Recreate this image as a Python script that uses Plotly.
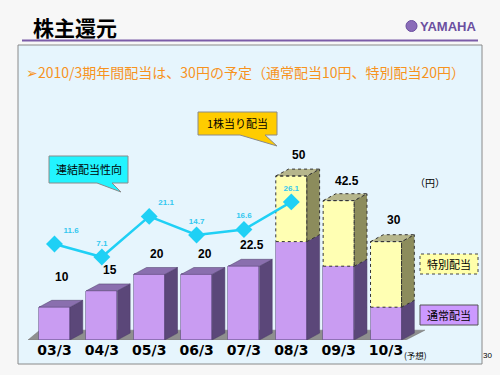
import plotly.graph_objects as go

# ---------------- data ----------------
categories = ["03/3", "04/3", "05/3", "06/3", "07/3", "08/3", "09/3", "10/3"]
regular_dividend = [10, 15, 20, 20, 22.5, 30, 22.5, 10]
special_dividend = [0, 0, 0, 0, 0, 20, 20, 20]
total_labels = ["10", "15", "20", "20", "22.5", "50", "42.5", "30"]
payout_categories = ["03/3", "04/3", "05/3", "06/3", "07/3", "08/3"]
payout_ratio = [11.6, 7.1, 21.1, 14.7, 16.6, 26.1]

# ---------------- geometry helpers ----------------
W, H = 500, 375
def px(x):
    return x / W
def py(y):
    return 1 - y / H

xpos = list(range(len(categories)))
cat_index = {c: i for i, c in enumerate(categories)}
payout_x = [cat_index[c] for c in payout_categories]
totals = [r + s for r, s in zip(regular_dividend, special_dividend)]

BW = 0.655   # bar front width (category units)
DX = 0.27    # 3D depth, x
DY = 2.1     # 3D depth, y (value units)

PURPLE_FRONT = "#c99cf2"
PURPLE_SIDE = "#5b4779"
PURPLE_TOP = "#8a6fae"
YELLOW_FRONT = "#ffffb3"
YELLOW_SIDE = "#8c8c5c"
YELLOW_TOP = "#b6b68c"
CYAN = "#1fd0f5"
CJK = "Noto Sans CJK JP"

fig = go.Figure()

# front faces
fig.add_trace(go.Bar(x=xpos, y=regular_dividend, width=BW, marker=dict(color=PURPLE_FRONT, line=dict(color="#6a5590", width=0.6)),
                     showlegend=False, hoverinfo="skip"))
fig.add_trace(go.Bar(x=xpos, y=special_dividend, width=BW, marker=dict(color=YELLOW_FRONT, line=dict(color="rgba(0,0,0,0)", width=0)),
                     showlegend=False, hoverinfo="skip"))

# side & top faces
def side_poly(i, lo, hi):
    xr = i + BW / 2
    return [xr, xr + DX, xr + DX, xr, xr, None], [lo, lo + DY, hi + DY, hi, lo, None]

def top_poly(i, hi):
    xl, xr = i - BW / 2, i + BW / 2
    return [xl, xl + DX, xr + DX, xr, xl, None], [hi, hi + DY, hi + DY, hi, hi, None]

ps_x, ps_y, ys_x, ys_y, pt_x, pt_y, yt_x, yt_y = [], [], [], [], [], [], [], []
of_x, of_y = [], []
for i in xpos:
    r, s = regular_dividend[i], special_dividend[i]
    a, b = side_poly(i, 0, r)
    ps_x += a; ps_y += b
    if s > 0:
        a, b = side_poly(i, r, r + s)
        ys_x += a; ys_y += b
        a, b = top_poly(i, r + s)
        yt_x += a; yt_y += b
        xl, xr = i - BW / 2, i + BW / 2
        of_x += [xl, xr, xr, xl, xl, None]
        of_y += [r, r, r + s, r + s, r, None]
    else:
        a, b = top_poly(i, r)
        pt_x += a; pt_y += b

fig.add_trace(go.Scatter(x=ps_x, y=ps_y, fill="toself", fillcolor=PURPLE_SIDE, mode="lines",
                         line=dict(color="#4a3a66", width=0.5), showlegend=False, hoverinfo="skip"))
fig.add_trace(go.Scatter(x=pt_x, y=pt_y, fill="toself", fillcolor=PURPLE_TOP, mode="lines",
                         line=dict(color="#4a3a66", width=0.5), showlegend=False, hoverinfo="skip"))
fig.add_trace(go.Scatter(x=ys_x, y=ys_y, fill="toself", fillcolor=YELLOW_SIDE, mode="lines",
                         line=dict(color="#333", width=1, dash="dot"), showlegend=False, hoverinfo="skip"))
fig.add_trace(go.Scatter(x=yt_x, y=yt_y, fill="toself", fillcolor=YELLOW_TOP, mode="lines",
                         line=dict(color="#333", width=1, dash="dot"), showlegend=False, hoverinfo="skip"))
fig.add_trace(go.Scatter(x=of_x, y=of_y, mode="lines",
                         line=dict(color="#333", width=1, dash="dot"), showlegend=False, hoverinfo="skip"))

# payout ratio line
fig.add_trace(go.Scatter(x=payout_x, y=payout_ratio, yaxis="y2", mode="lines+markers+text",
                         line=dict(color=CYAN, width=2.5),
                         marker=dict(symbol="diamond", size=13, color=CYAN),
                         text=[f"<b>{v:.1f}</b>" for v in payout_ratio],
                         textposition=["top right", "top center", "top right", "top center", "top center", "top center"],
                         textfont=dict(color="#33c8f0", size=8, family="Liberation Sans"),
                         showlegend=False, hoverinfo="skip"))

# ---------------- shapes ----------------
shapes = []
# panel
shapes.append(dict(type="rect", xref="paper", yref="paper", x0=px(18), x1=px(482), y0=py(364), y1=py(45),
                   fillcolor="#e6f5fd", line=dict(color="#8a8a8a", width=1), layer="below"))
# title underline
shapes.append(dict(type="line", xref="paper", yref="paper", x0=px(22), x1=px(478), y0=py(40.5), y1=py(40.5),
                   line=dict(color="#7b5ca8", width=2)))
# logo circle
shapes.append(dict(type="circle", xref="paper", yref="paper", x0=px(406), x1=px(417), y0=py(31.5), y1=py(20.5),
                   fillcolor="#8a6cb8", line=dict(color="#6b4fa0", width=1)))
# floor (below bars)
fx0, fx1 = -0.56, len(categories) - 1 + 0.42
floor_path = f"M {fx0},0 L {fx1},0 L {fx1 + 0.4},3 L {fx0 + 0.25},3 Z"
shapes.append(dict(type="path", xref="x", yref="y", path=floor_path, fillcolor="#8f8f8f",
                   line=dict(color="#707070", width=0.5), layer="below"))

def ppath(pts):
    s = "M " + " L ".join(f"{px(x)},{py(y)}" for x, y in pts) + " Z"
    return s

# callouts
shapes.append(dict(type="path", xref="paper", yref="paper",
                   path=ppath([(198, 112), (277, 112), (277, 135), (265, 135), (277, 146), (240, 135), (198, 135)]),
                   fillcolor="#ffcc00", line=dict(color="#8a8a8a", width=1)))
shapes.append(dict(type="path", xref="paper", yref="paper",
                   path=ppath([(49, 156), (128, 156), (128, 183), (112, 183), (121, 192), (97, 183), (49, 183)]),
                   fillcolor="#22f4ff", line=dict(color="#8a8a8a", width=1)))
# legend boxes
shapes.append(dict(type="rect", xref="paper", yref="paper", x0=px(420), x1=px(478), y0=py(274), y1=py(254),
                   fillcolor="#ffffaa", line=dict(color="#444", width=1, dash="dot")))
shapes.append(dict(type="rect", xref="paper", yref="paper", x0=px(420), x1=px(478), y0=py(325), y1=py(305),
                   fillcolor="#cc99ff", line=dict(color="#555", width=1)))

# ---------------- annotations ----------------
ann = []
def txt(x, y, text, size, color="black", family=CJK, xanchor="center", bold=False):
    t = f"<b>{text}</b>" if bold else text
    ann.append(dict(xref="paper", yref="paper", x=px(x), y=py(y), text=t, showarrow=False,
                    xanchor=xanchor, yanchor="middle", font=dict(size=size, color=color, family=family)))

txt(31, 27, "株主還元", 21, bold=True, xanchor="left")
txt(418, 26.5, "YAMAHA", 13, color="#6b4fa0", family="Liberation Sans", bold=True, xanchor="left")
txt(24, 72, "➢2010/3期年間配当は、30円の予定（通常配当10円、特別配当20円）", 14, color="#f7931e", xanchor="left")
txt(237.5, 123.5, "1株当り配当", 11)
txt(88.5, 169.5, "連結配当性向", 11)
txt(430, 182, "（円）", 10)
txt(449, 264, "特別配当", 11)
txt(449, 315, "通常配当", 11)
txt(415, 355, "(予想)", 8.5)
txt(487, 355, "30", 8, family="Liberation Sans")

label_yshift = [30, 21, 20, 20, 21, 21, 20, 22]
for i in xpos:
    ann.append(dict(xref="x", yref="y", x=i, y=totals[i], text=f"<b>{total_labels[i]}</b>", showarrow=False,
                    xshift=8, yshift=label_yshift[i], font=dict(size=12, color="black", family="Liberation Sans")))

# ---------------- layout ----------------
px_per_unit = 3.28
y2_zero_px, y2_px_per_unit = 277.6, 2.9
fig.update_layout(
    width=W, height=H,
    margin=dict(l=0, r=0, t=0, b=0),
    paper_bgcolor="#f7f7f7",
    plot_bgcolor="rgba(0,0,0,0)",
    barmode="stack",
    bargap=0,
    showlegend=False,
    shapes=shapes,
    annotations=ann,
    xaxis=dict(domain=[px(20), px(480)], range=[-0.728, 8.984], tickmode="array", tickvals=xpos,
               ticktext=[f"<b>{c}</b>" for c in categories], showgrid=False, zeroline=False, showline=False, ticks="",
               tickfont=dict(family="DejaVu Sans", size=14, color="black"), fixedrange=True),
    yaxis=dict(domain=[py(340), py(100)], range=[0, 240 / px_per_unit], visible=False, fixedrange=True),
    yaxis2=dict(overlaying="y", range=[(y2_zero_px - 340) / y2_px_per_unit, (y2_zero_px - 100) / y2_px_per_unit],
                visible=False, fixedrange=True),
)

fig.write_html("out.html", config={"displayModeBar": False},
               post_script="document.body.style.margin='0px';document.body.style.background='#f7f7f7';")
